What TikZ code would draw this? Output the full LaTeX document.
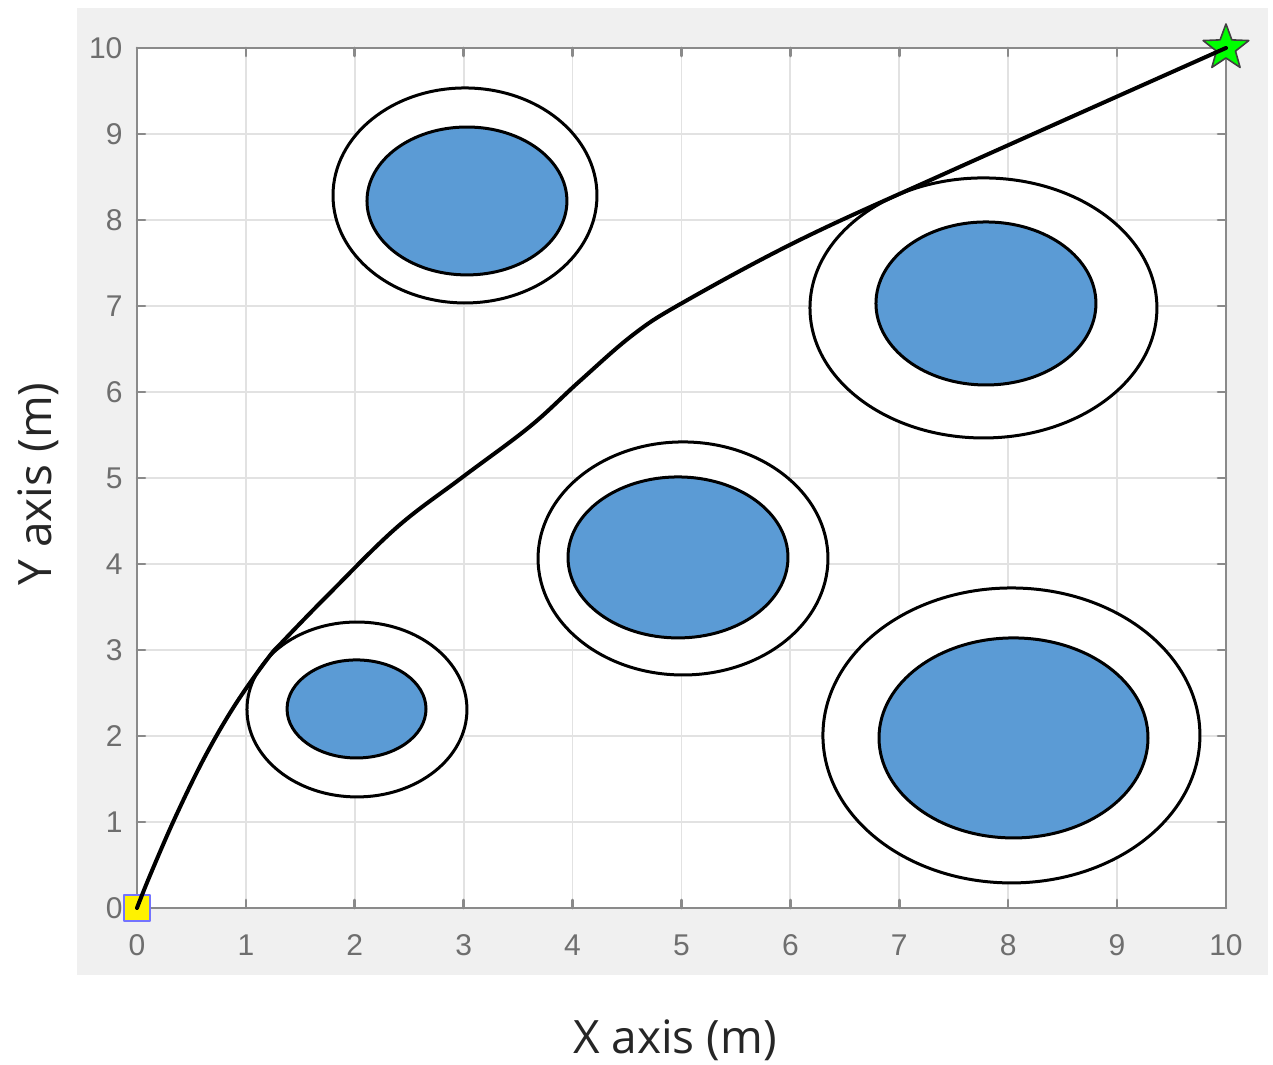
\documentclass[tikz,border=0pt]{standalone}
\usepackage{fontspec}
\setmainfont{Liberation Sans}
\newfontfamily\titlefont{Open Sans}
\usepackage{tikz}
\usetikzlibrary{shapes.geometric}
\definecolor{figbg}{HTML}{F0F0F0}
\definecolor{gridgray}{HTML}{E2E2E2}
\definecolor{axisgray}{HTML}{8A8A8A}
\definecolor{ticktext}{HTML}{6E6E6E}
\definecolor{obstblue}{HTML}{5B9BD5}
\definecolor{goalgreen}{HTML}{00FF00}

\begin{document}
\begin{tikzpicture}[
      x=54.45pt, y=43pt,
      line cap=round,
      line join=round,
      gridline/.style={gridgray, line width=0.9pt},
      axisline/.style={axisgray, line width=1.3pt},
      ticklabel/.style={font=\fontsize{15}{15}\selectfont, text=ticktext, inner sep=0pt},
      axistitle/.style={font=\titlefont\fontsize{23}{23}\selectfont, text=black!85, inner sep=0pt},
      safezone/.style={draw=black, fill=white, line width=1.5pt},
      obstacle/.style={draw=black, fill=obstblue, line width=1.5pt},
      route/.style={black, line width=2pt},
    ]
    \useasboundingbox (-1.258,-1.826) rectangle (10.432,10.558);
    %% Figure background and white axes area.
    \fill[figbg] (-0.551,-0.779) rectangle (10.386,10.465);
    \fill[white] (0,0) rectangle (10,10);
    %% Grid lines at every metre.
    \foreach \k in {1,...,9} {
      \draw[gridline] (\k,0) -- (\k,10);
      \draw[gridline] (0,\k) -- (10,\k);
    }
    %% Obstacles: outer safety ring, inner blue body.
    \foreach \cx/\cy/\rx/\ry in {%
        3.012/8.285/1.212/1.250, 7.773/6.977/1.593/1.512,
        5.014/4.064/1.331/1.355, 2.020/2.308/1.010/1.017,
        8.030/2.006/1.731/1.715}
      \draw[safezone] (\cx,\cy) ellipse [x radius=\rx, y radius=\ry];
    \foreach \cx/\cy/\rx/\ry in {%
        3.030/8.221/0.918/0.860, 7.796/7.029/1.010/0.948,
        4.968/4.076/1.010/0.936, 2.016/2.314/0.638/0.570,
        8.049/1.977/1.235/1.163}
      \draw[obstacle] (\cx,\cy) ellipse [x radius=\rx, y radius=\ry];
    %% Axes box, inward ticks and tick labels.
    \draw[axisline] (0,0) rectangle (10,10);
    \foreach \k in {0,...,10} {
      \draw[axisline] (\k,0) -- ++(0,4pt);
      \draw[axisline] (\k,10) -- ++(0,-4pt);
      \draw[axisline] (0,\k) -- ++(4pt,0);
      \draw[axisline] (10,\k) -- ++(-4pt,0);
      \node[ticklabel, anchor=center] (xt\k) at (\k,-0.43) {\k};
      \node[ticklabel, anchor=east]   (yt\k) at (-0.13,\k) {\k};
    }
    \node[axistitle] (xtitle) at (4.94,-1.535) {X axis (m)};
    \node[axistitle, rotate=90] (ytitle) at (-0.909,4.93) {Y axis (m)};
    %% Start and goal markers.
    \node[draw=blue!55, fill=yellow, line width=0.6pt, minimum size=13pt,
          inner sep=0pt] (start) at (0,0) {};
    \node[star, star points=5, star point ratio=2.4, draw=black!75,
          fill=goalgreen, line width=0.8pt, minimum size=24pt,
          inner sep=0pt] (goal) at (10,10) {};
    %% Planned path from start to goal.
    \draw[route] plot[smooth, tension=0.6] coordinates {%
        (start.center) (0.12,0.38) (0.35,1.05) (0.62,1.75) (0.9,2.36)
        (1.2,2.9) (1.34,3.1) (1.77,3.66) (2.39,4.43) (2.99,5.01)
        (3.61,5.6) (4.06,6.12) (4.55,6.66) (5.0,7.03) (6.09,7.77)
        (7.49,8.58) (goal.center)};
  \end{tikzpicture}
\end{document}
